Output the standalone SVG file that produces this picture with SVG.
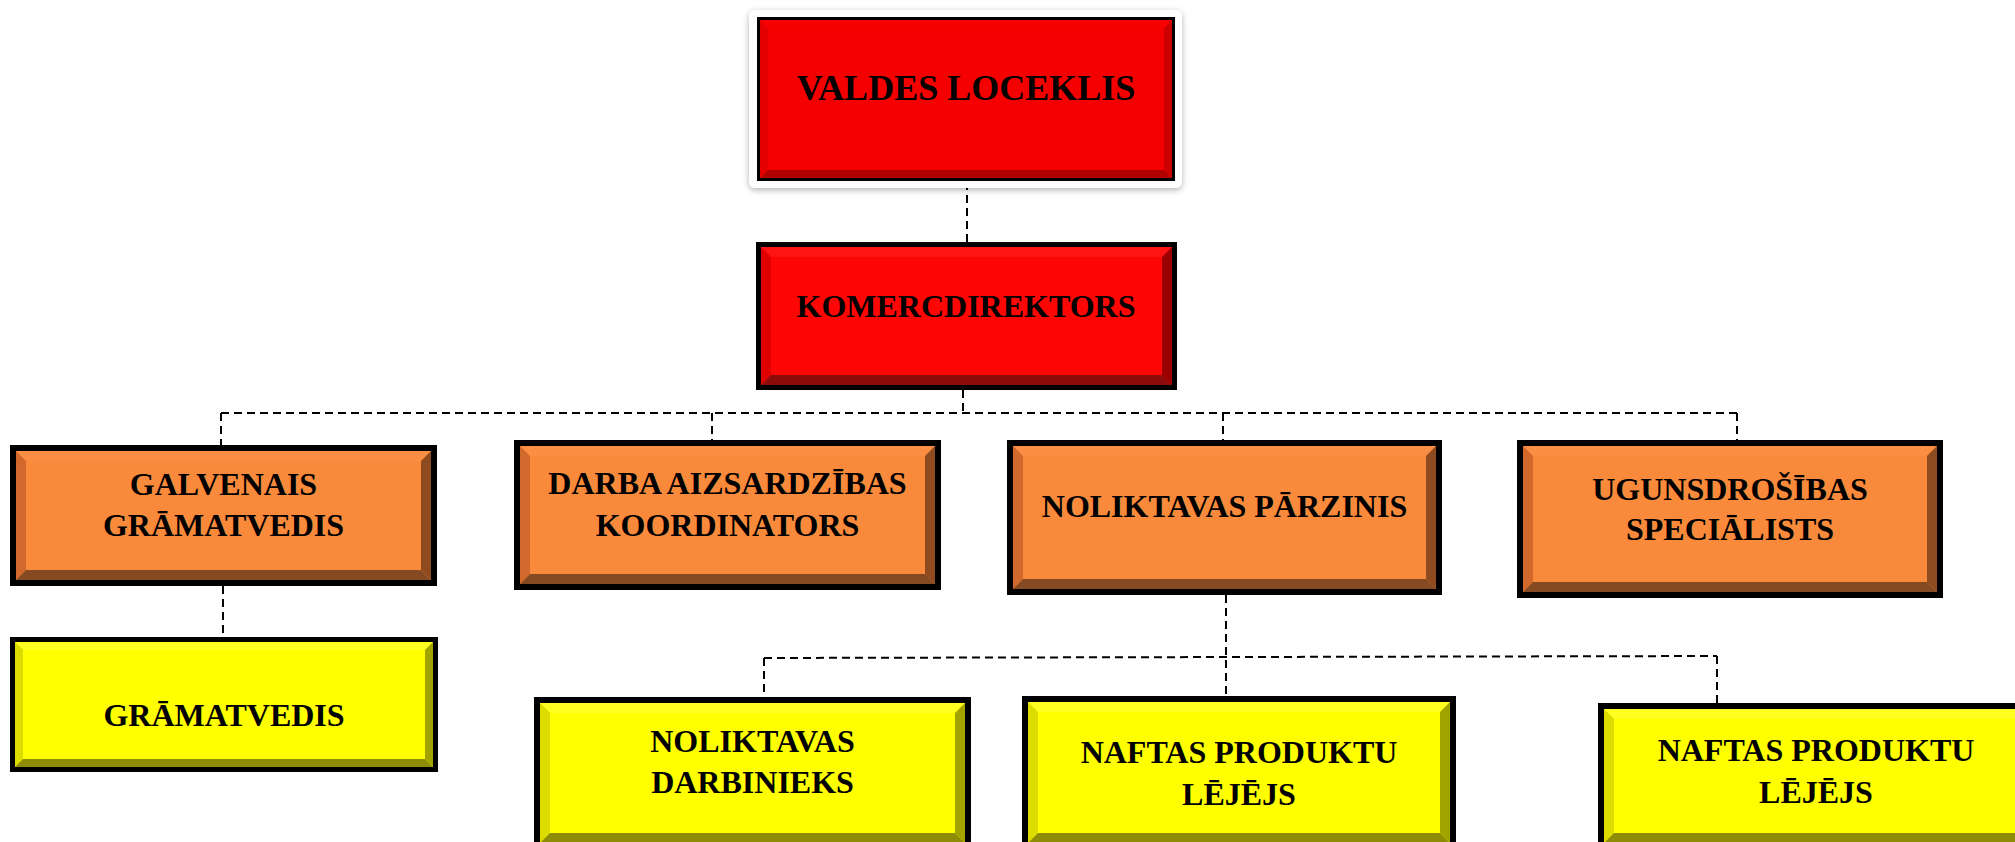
<svg xmlns="http://www.w3.org/2000/svg" width="2015" height="842" viewBox="0 0 2015 842">
<defs>
<filter id="sh" x="-10%" y="-20%" width="120%" height="140%">
<feDropShadow dx="0" dy="2" stdDeviation="3" flood-color="#000" flood-opacity="0.3"/>
</filter>
</defs>
<style>
text{font-family:"Liberation Serif","Times New Roman",serif;font-weight:bold;fill:#000;text-anchor:middle}
.t36{font-size:36px}.t32{font-size:32px}
.border{fill:#000}
.r-main{fill:#FF0606}.r-top{fill:#FF1414}.r-left{fill:#DF0000}.r-right{fill:#9A0000}.r-bot{fill:#8C0C0C}
.v-main{fill:#F50000}.v-top{fill:#F70000}.v-left{fill:#E40000}.v-right{fill:#CC0000}.v-bot{fill:#B00000}
.o-main{fill:#FA8A3B}.o-top{fill:#FB8E42}.o-left{fill:#D0692B}.o-right{fill:#8E4B1F}.o-bot{fill:#854A22}
.y-main{fill:#FFFF00}.y-top{fill:#FFFF22}.y-left{fill:#DCDC00}.y-right{fill:#A3A300}.y-bot{fill:#8E8C05}
.conn{fill:none;stroke:#000;stroke-width:2;stroke-dasharray:8 5}
</style>
<rect width="2015" height="842" fill="#fff"/>

<g id="connectors">
<line class="conn" x1="967" y1="182" x2="967" y2="242"/>
<line class="conn" x1="963" y1="390" x2="963" y2="413"/>
<line class="conn" x1="221" y1="413" x2="1737" y2="413"/>
<line class="conn" x1="221" y1="413" x2="221" y2="445"/>
<line class="conn" x1="712" y1="413" x2="712" y2="440"/>
<line class="conn" x1="1223" y1="413" x2="1223" y2="440"/>
<line class="conn" x1="1737" y1="413" x2="1737" y2="440"/>
<line class="conn" x1="223" y1="586" x2="223" y2="637"/>
<line class="conn" x1="1226" y1="595" x2="1226" y2="696"/>
<line class="conn" x1="764" y1="658" x2="1717" y2="656"/>
<line class="conn" x1="764" y1="658" x2="764" y2="697"/>
<line class="conn" x1="1717" y1="656" x2="1717" y2="703"/>
</g>

<g id="valdes-loceklis">
<rect x="749" y="10" width="433" height="178" rx="6" fill="#fff" filter="url(#sh)"/>
<rect class="border" x="757" y="17" width="418" height="164"/>
<rect class="v-main" x="760" y="20" width="412" height="158"/>
<polygon class="v-top" points="760,20 1172,20 1164,28 768,28"/>
<polygon class="v-left" points="760,20 768,28 768,170 760,178"/>
<polygon class="v-right" points="1172,20 1172,178 1164,170 1164,28"/>
<polygon class="v-bot" points="760,178 768,170 1164,170 1172,178"/>
<text class="t36" x="966" y="100">VALDES LOCEKLIS</text>
</g>

<g id="komercdirektors">
<rect class="border" x="756" y="242" width="421" height="148"/>
<rect class="r-main" x="761" y="247" width="411" height="138"/>
<polygon class="r-top" points="761,247 1172,247 1162,257 771,257"/>
<polygon class="r-left" points="761,247 771,257 771,375 761,385"/>
<polygon class="r-right" points="1172,247 1172,385 1162,375 1162,257"/>
<polygon class="r-bot" points="761,385 771,375 1162,375 1172,385"/>
<text class="t32" x="966" y="317">KOMERCDIREKTORS</text>
</g>

<g id="galvenais-gramatvedis">
<rect class="border" x="10" y="445" width="427" height="141"/>
<rect class="o-main" x="16" y="451" width="415" height="129"/>
<polygon class="o-top" points="16,451 431,451 421,461 26,461"/>
<polygon class="o-left" points="16,451 26,461 26,570 16,580"/>
<polygon class="o-right" points="431,451 431,580 421,570 421,461"/>
<polygon class="o-bot" points="16,580 26,570 421,570 431,580"/>
<text class="t32" x="223.5" y="495">GALVENAIS</text>
<text class="t32" x="223.5" y="536">GRĀMATVEDIS</text>
</g>

<g id="darba-aizsardzibas-koordinators">
<rect class="border" x="514" y="440" width="427" height="150"/>
<rect class="o-main" x="520" y="446" width="415" height="138"/>
<polygon class="o-top" points="520,446 935,446 925,456 530,456"/>
<polygon class="o-left" points="520,446 530,456 530,574 520,584"/>
<polygon class="o-right" points="935,446 935,584 925,574 925,456"/>
<polygon class="o-bot" points="520,584 530,574 925,574 935,584"/>
<text class="t32" x="727.5" y="494">DARBA AIZSARDZĪBAS</text>
<text class="t32" x="727.5" y="536">KOORDINATORS</text>
</g>

<g id="noliktavas-parzinis">
<rect class="border" x="1007" y="440" width="435" height="155"/>
<rect class="o-main" x="1013" y="446" width="423" height="143"/>
<polygon class="o-top" points="1013,446 1436,446 1426,456 1023,456"/>
<polygon class="o-left" points="1013,446 1023,456 1023,579 1013,589"/>
<polygon class="o-right" points="1436,446 1436,589 1426,579 1426,456"/>
<polygon class="o-bot" points="1013,589 1023,579 1426,579 1436,589"/>
<text class="t32" x="1224.5" y="517">NOLIKTAVAS PĀRZINIS</text>
</g>

<g id="ugunsdrosibas-specialists">
<rect class="border" x="1517" y="440" width="426" height="158"/>
<rect class="o-main" x="1523" y="446" width="414" height="146"/>
<polygon class="o-top" points="1523,446 1937,446 1927,456 1533,456"/>
<polygon class="o-left" points="1523,446 1533,456 1533,582 1523,592"/>
<polygon class="o-right" points="1937,446 1937,592 1927,582 1927,456"/>
<polygon class="o-bot" points="1523,592 1533,582 1927,582 1937,592"/>
<text class="t32" x="1730" y="500">UGUNSDROŠĪBAS</text>
<text class="t32" x="1730" y="540">SPECIĀLISTS</text>
</g>

<g id="gramatvedis">
<rect class="border" x="10" y="637" width="428" height="135"/>
<rect class="y-main" x="15" y="642" width="418" height="125"/>
<polygon class="y-top" points="15,642 433,642 425,650 23,650"/>
<polygon class="y-left" points="15,642 23,650 23,759 15,767"/>
<polygon class="y-right" points="433,642 433,767 425,759 425,650"/>
<polygon class="y-bot" points="15,767 23,759 425,759 433,767"/>
<text class="t32" x="224" y="726">GRĀMATVEDIS</text>
</g>

<g id="noliktavas-darbinieks">
<rect class="border" x="534" y="697" width="437" height="152"/>
<rect class="y-main" x="540" y="703" width="425" height="140"/>
<polygon class="y-top" points="540,703 965,703 955,713 550,713"/>
<polygon class="y-left" points="540,703 550,713 550,833 540,843"/>
<polygon class="y-right" points="965,703 965,843 955,833 955,713"/>
<polygon class="y-bot" points="540,843 550,833 955,833 965,843"/>
<text class="t32" x="752.5" y="752">NOLIKTAVAS</text>
<text class="t32" x="752.5" y="793">DARBINIEKS</text>
</g>

<g id="naftas-produktu-lejejs-1">
<rect class="border" x="1022" y="696" width="434" height="153"/>
<rect class="y-main" x="1028" y="702" width="422" height="141"/>
<polygon class="y-top" points="1028,702 1450,702 1440,712 1038,712"/>
<polygon class="y-left" points="1028,702 1038,712 1038,833 1028,843"/>
<polygon class="y-right" points="1450,702 1450,843 1440,833 1440,712"/>
<polygon class="y-bot" points="1028,843 1038,833 1440,833 1450,843"/>
<text class="t32" x="1239" y="763">NAFTAS PRODUKTU</text>
<text class="t32" x="1239" y="805">LĒJĒJS</text>
</g>

<g id="naftas-produktu-lejejs-2">
<rect class="border" x="1598" y="703" width="436" height="146"/>
<rect class="y-main" x="1604" y="709" width="424" height="134"/>
<polygon class="y-top" points="1604,709 2028,709 2018,719 1614,719"/>
<polygon class="y-left" points="1604,709 1614,719 1614,833 1604,843"/>
<polygon class="y-right" points="2028,709 2028,843 2018,833 2018,719"/>
<polygon class="y-bot" points="1604,843 1614,833 2018,833 2028,843"/>
<text class="t32" x="1816" y="761">NAFTAS PRODUKTU</text>
<text class="t32" x="1816" y="803">LĒJĒJS</text>
</g>
</svg>
